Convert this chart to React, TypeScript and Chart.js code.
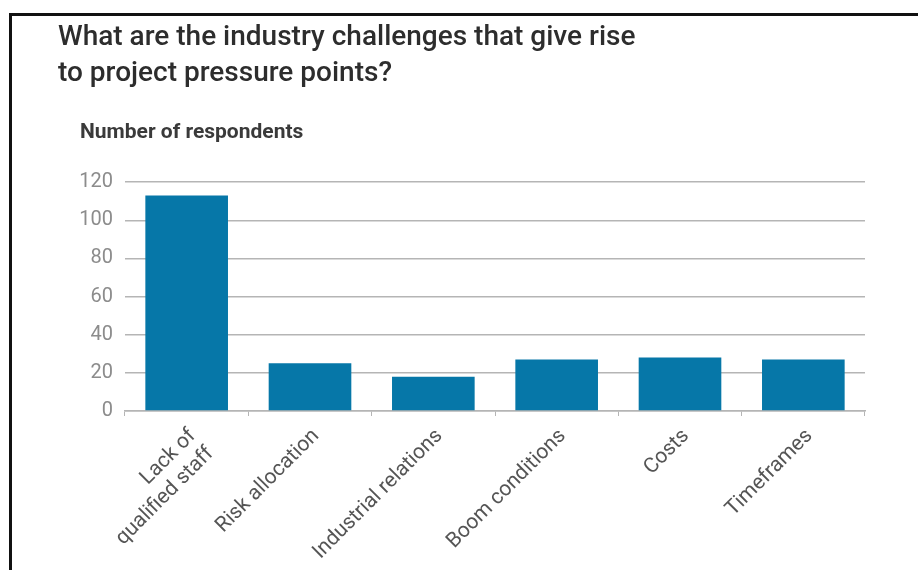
import React, { useEffect, useRef } from "react";
import { Chart, registerables } from "chart.js";

Chart.register(...registerables);

const titleLines = ["What are the industry challenges that give rise", "to project pressure points?"];
const axisCaption = "Number of respondents";
const categories: (string | string[])[] = [
  ["Lack of", "qualified staff"],
  "Risk allocation",
  "Industrial relations",
  "Boom conditions",
  "Costs",
  "Timeframes",
];
const respondents = [113, 25, 18, 27, 28, 27];
const yTicks = [0, 20, 40, 60, 80, 100, 120];

const captionPlugin = {
  id: "caption",
  afterDraw(chart: any) {
    const ctx = chart.ctx;
    ctx.save();
    ctx.font = "bold 21px Roboto";
    ctx.fillStyle = "#3a3a3a";
    ctx.textBaseline = "middle";
    ctx.textAlign = "left";
    ctx.fillText(axisCaption, 80, 133);
    ctx.restore();
  },
};

export default function App() {
  const ref = useRef<HTMLCanvasElement>(null);
  useEffect(() => {
    if (!ref.current) return;
    const chart = new Chart(ref.current, {
      type: "bar",
      data: {
        labels: categories,
        datasets: [
          {
            data: respondents,
            backgroundColor: "#0677a8",
            borderWidth: 0,
            categoryPercentage: 1,
            barPercentage: 0.67,
          },
        ],
      },
      options: {
        responsive: false,
        animation: false,
        layout: { padding: { left: 58, right: 53, top: 0, bottom: 0 } },
        plugins: {
          legend: { display: false },
          tooltip: { enabled: false },
          title: {
            display: true,
            text: titleLines,
            align: "start",
            color: "#2d2d2d",
            font: { family: "Roboto", size: 28, weight: "500", lineHeight: 1.29 },
            padding: { top: 20, bottom: 90 },
          },
        },
        scales: {
          x: {
            grid: {
              display: true,
              drawOnChartArea: false,
              drawTicks: true,
              tickLength: 5,
              color: "#b5b5b5",
              offset: true,
            },
            border: { display: true, color: "#b5b5b5", width: 1.5 },
            ticks: {
              minRotation: 45,
              maxRotation: 45,
              color: "#555555",
              padding: 8,
              labelOffset: 6,
              font: { family: "Roboto", size: 21 },
            },
            afterFit(axis: any) {
              axis.height = 159;
            },
          },
          y: {
            min: 0,
            max: 120,
            afterBuildTicks(axis: any) {
              axis.ticks = yTicks.map((v) => ({ value: v }));
            },
            grid: { color: "#b5b5b5", lineWidth: 1.5, drawTicks: false },
            border: { display: false },
            ticks: {
              color: "#8c8c8c",
              padding: 12,
              font: { family: "Roboto", size: 20 },
            },
            afterFit(axis: any) {
              axis.width = 67;
            },
          },
        },
      },
      plugins: [captionPlugin],
    });
    return () => chart.destroy();
  }, []);

  return (
    <div style={{ position: "absolute", left: 0, top: 0, width: 918, height: 570, background: "#fff", overflow: "hidden" }}>
      <div
        style={{
          position: "absolute",
          left: 9,
          top: 13,
          right: 0,
          bottom: 0,
          borderLeft: "3px solid #111",
          borderTop: "3px solid #111",
        }}
      />
      <canvas ref={ref} width={918} height={570} style={{ position: "absolute", left: 0, top: 0 }} />
    </div>
  );
}
